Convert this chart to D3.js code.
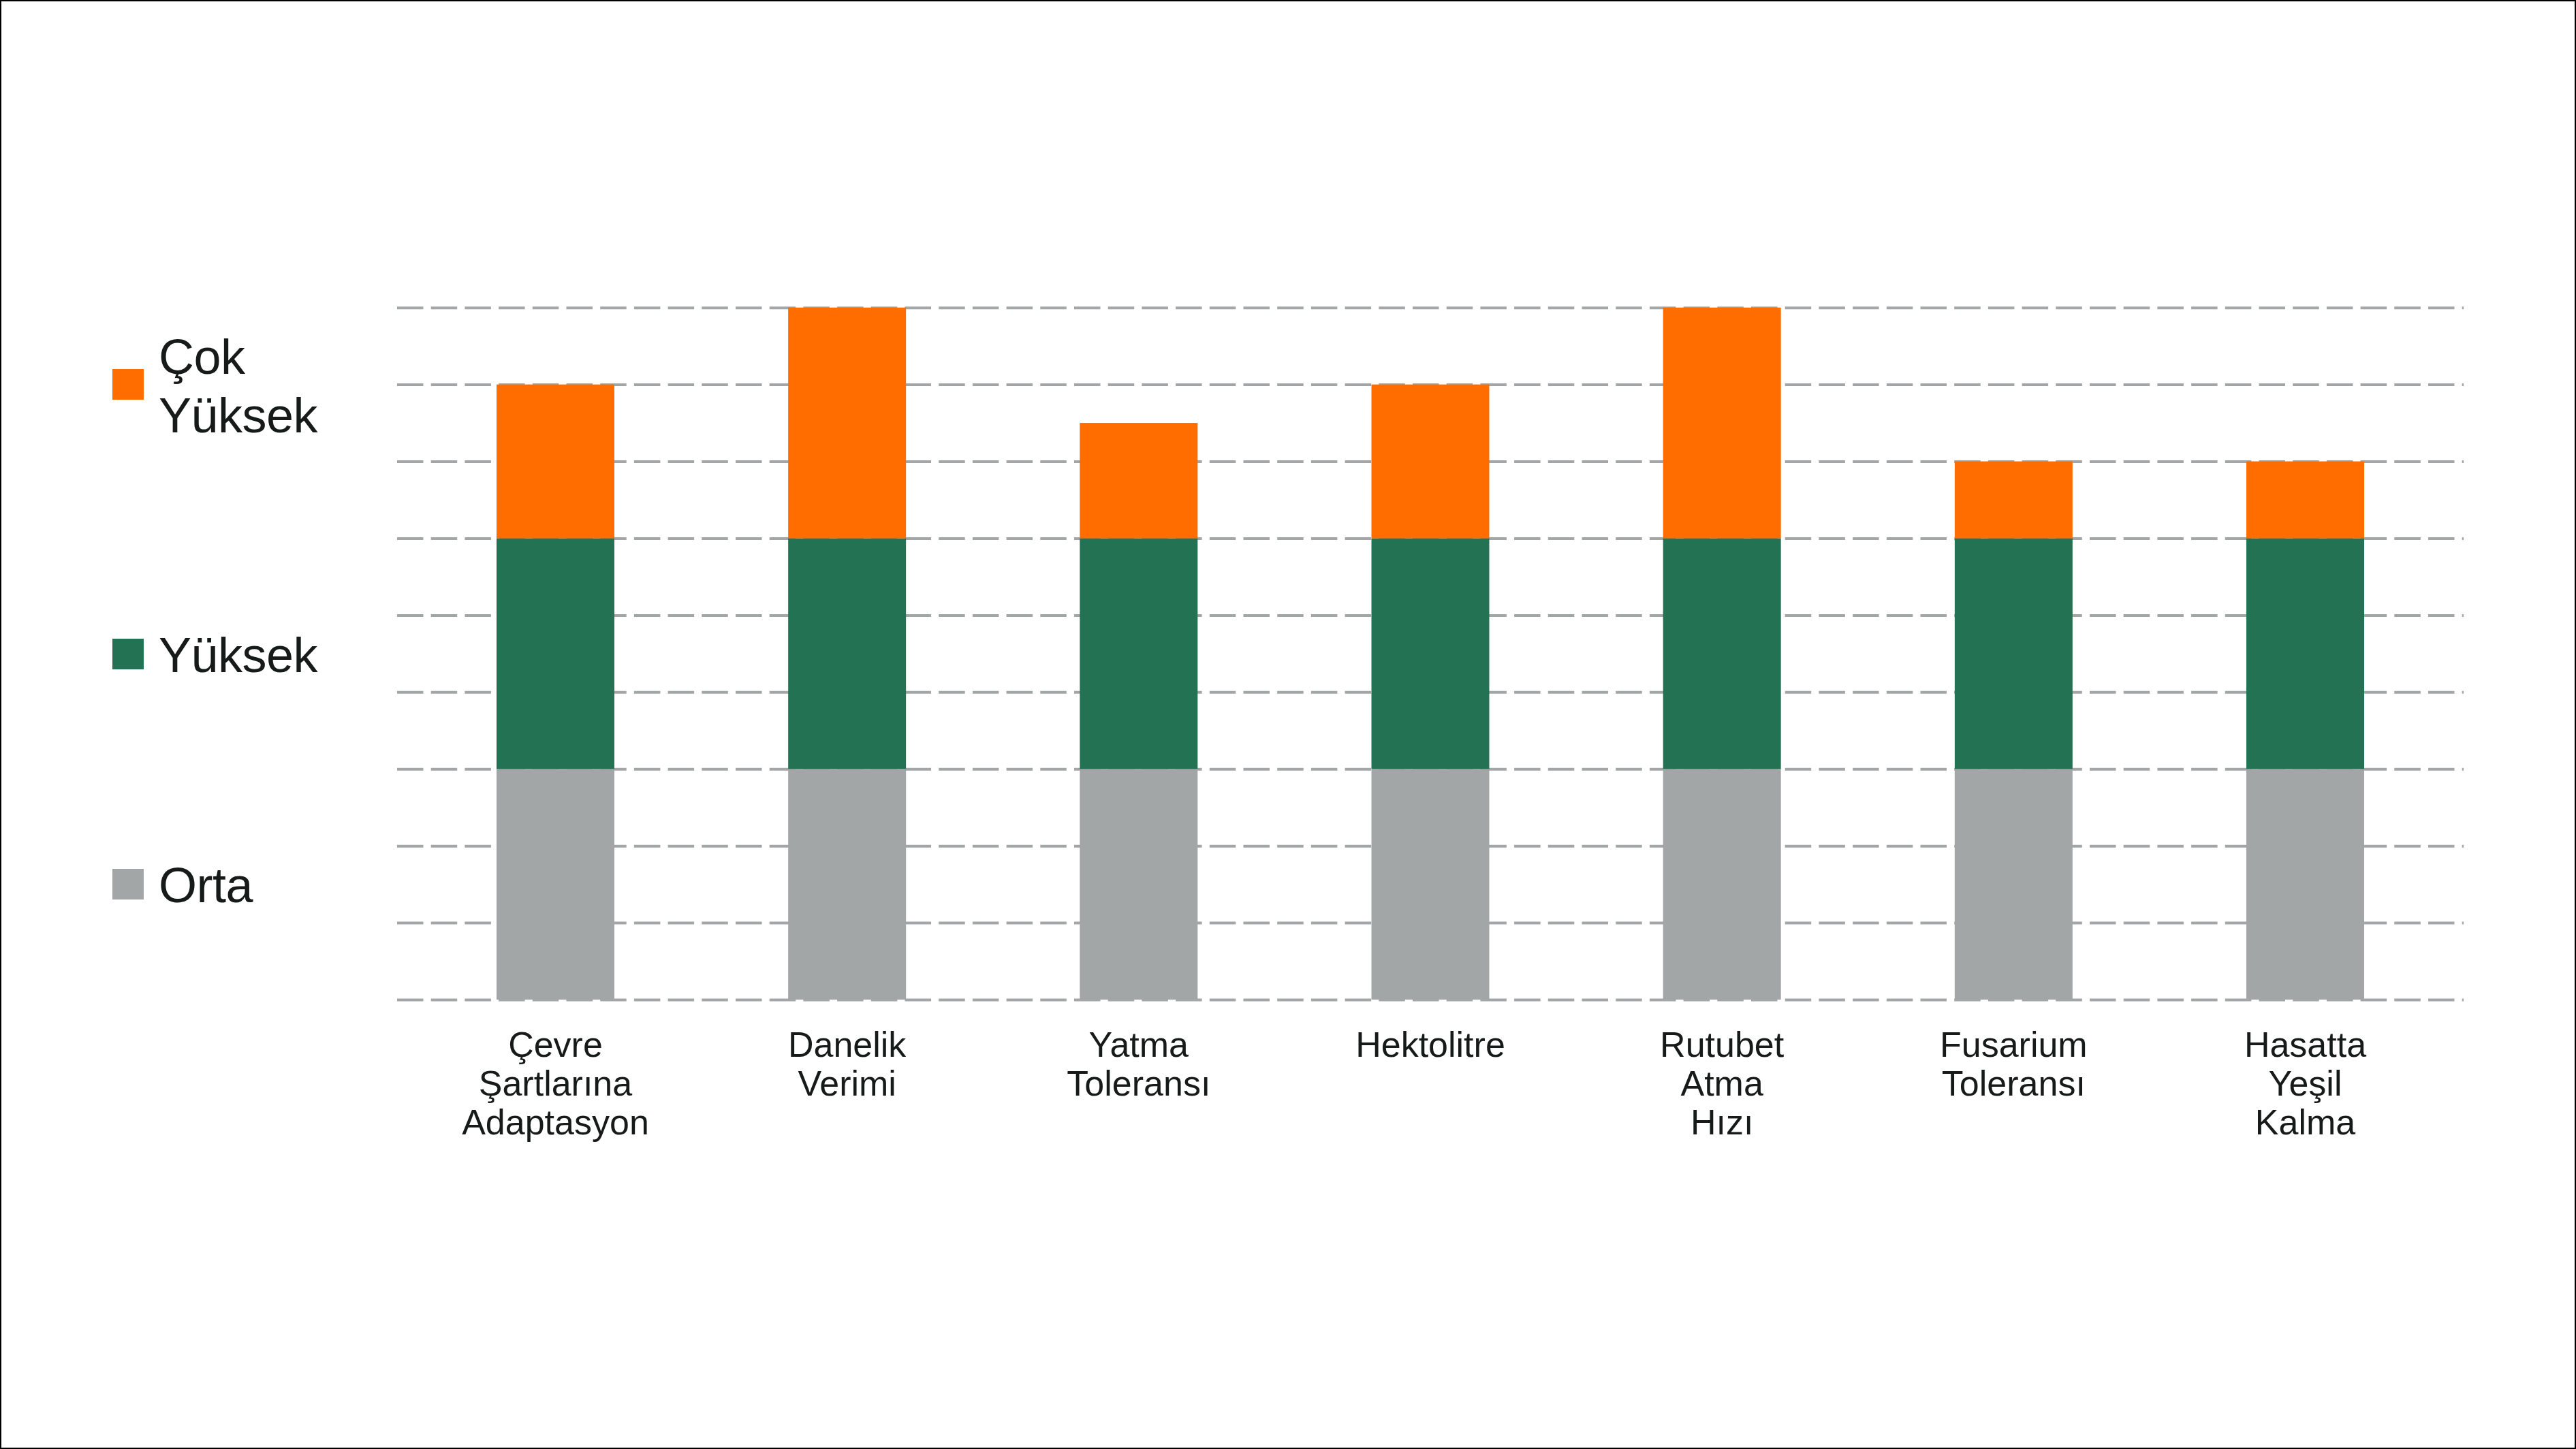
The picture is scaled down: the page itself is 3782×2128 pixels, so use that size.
<!DOCTYPE html>
<html>
<head>
	<meta charset="utf-8">
	<style>
		body {
			margin: 0;
			background-color: #fff;
		}
		svg text {
			font-family: "Liberation Sans", Arial, sans-serif;
			fill: #161a19;
		}
		.grid line {
			stroke: #a3a6a6;
			stroke-width: 4;
			stroke-dasharray: 38.5 11.2;
		}
		.grid path {
			display: none;
		}
	</style>
	<script src="https://cdn.jsdelivr.net/npm/d3@7"></script>
</head>
<body>

	<div id="chart"></div>

	<script>
		// categories and the three levels, bottom to top
		var categories = [
			"Çevre Şartlarına Adaptasyon",
			"Danelik Verimi",
			"Yatma Toleransı",
			"Hektolitre",
			"Rutubet Atma Hızı",
			"Fusarium Toleransı",
			"Hasatta Yeşil Kalma"
		];
		// how each label is broken into lines under the bars
		var labelLines = [
			["Çevre", "Şartlarına", "Adaptasyon"],
			["Danelik", "Verimi"],
			["Yatma", "Toleransı"],
			["Hektolitre"],
			["Rutubet", "Atma", "Hızı"],
			["Fusarium", "Toleransı"],
			["Hasatta", "Yeşil", "Kalma"]
		];
		var orta = [3, 3, 3, 3, 3, 3, 3];
		var yuksek = [3, 3, 3, 3, 3, 3, 3];
		var cokYuksek = [2, 3, 1.5, 2, 3, 1, 1];
		var yTicks = [0, 1, 2, 3, 4, 5, 6, 7, 8, 9];

		var seriesKeys = ["Orta", "Yüksek", "Çok Yüksek"];
		var colors = {"Orta": "#a3a6a6", "Yüksek": "#237254", "Çok Yüksek": "#ff6d00"};

		var W = 3782, H = 2128;
		var plotLeft = 583, plotRight = 3617, plotTop = 451.7, plotBottom = 1468;

		var rows = categories.map(function(c, i) {
			return {cat: c, "Orta": orta[i], "Yüksek": yuksek[i], "Çok Yüksek": cokYuksek[i]};
		});

		var x = d3.scaleBand()
			.domain(categories)
			.range([plotLeft, plotRight])
			.paddingInner(0.596)
			.paddingOuter(0.341);

		var y = d3.scaleLinear()
			.domain([0, 9])
			.range([plotBottom, plotTop]);

		var svg = d3.select("#chart").append("svg")
			.attr("width", W)
			.attr("height", H);

		svg.append("rect")
			.attr("x", 1).attr("y", 1)
			.attr("width", W - 2).attr("height", H - 2)
			.attr("fill", "#fff")
			.attr("stroke", "#000")
			.attr("stroke-width", 2);

		// dashed grid lines behind the bars
		svg.append("g")
			.attr("class", "grid")
			.attr("transform", "translate(" + plotLeft + ",0)")
			.call(d3.axisLeft(y).tickValues(yTicks.slice(1)).tickSize(-(plotRight - plotLeft)).tickFormat(""));

		var stacked = d3.stack().keys(seriesKeys)(rows);

		svg.append("g").selectAll("g")
			.data(stacked)
			.join("g")
			.attr("fill", function(d) { return colors[d.key]; })
			.selectAll("rect")
			.data(function(d) { return d; })
			.join("rect")
			.attr("x", function(d) { return x(d.data.cat); })
			.attr("y", function(d) { return y(d[1]); })
			.attr("width", x.bandwidth())
			.attr("height", function(d) { return y(d[0]) - y(d[1]); });

		// baseline dashes sit on top of the bar bottoms
		svg.append("g")
			.attr("class", "grid")
			.attr("transform", "translate(" + plotLeft + ",0)")
			.call(d3.axisLeft(y).tickValues([0]).tickSize(-(plotRight - plotLeft)).tickFormat(""));

		// category labels
		var labels = svg.append("g").selectAll("text")
			.data(categories)
			.join("text")
			.attr("text-anchor", "middle")
			.attr("font-size", 52)
			.attr("x", function(d) { return x(d) + x.bandwidth() / 2; })
			.attr("y", 1552);

		labels.selectAll("tspan")
			.data(function(d, i) { return labelLines[i]; })
			.join("tspan")
			.attr("x", function() { return d3.select(this.parentNode).attr("x"); })
			.attr("dy", function(d, i) { return i === 0 ? 0 : 57; })
			.text(function(d) { return d; });

		// legend on the left, top entry is "Çok Yüksek"
		var legend = [
			{key: "Çok Yüksek", lines: ["Çok", "Yüksek"], sq: 542, base: 549},
			{key: "Yüksek", lines: ["Yüksek"], sq: 938, base: 987},
			{key: "Orta", lines: ["Orta"], sq: 1276, base: 1325}
		];

		var lg = svg.append("g").selectAll("g")
			.data(legend)
			.join("g");

		lg.append("rect")
			.attr("x", 165)
			.attr("y", function(d) { return d.sq; })
			.attr("width", 46)
			.attr("height", 45)
			.attr("fill", function(d) { return colors[d.key]; });

		lg.append("text")
			.attr("font-size", 72)
			.attr("letter-spacing", -0.5)
			.attr("y", function(d) { return d.base; })
			.selectAll("tspan")
			.data(function(d) { return d.lines; })
			.join("tspan")
			.attr("x", 233)
			.attr("dy", function(d, i) { return i === 0 ? 0 : 86; })
			.text(function(d) { return d; });
	</script>

</body>
</html>
